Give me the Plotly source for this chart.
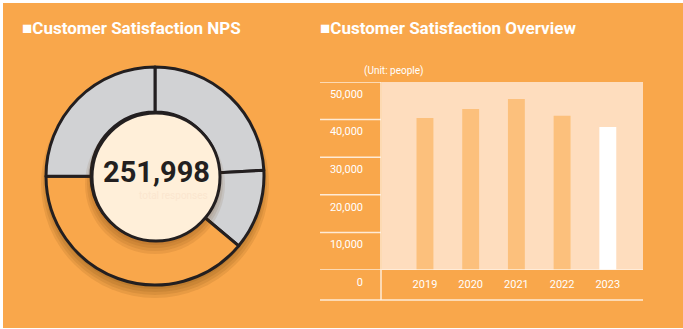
import plotly.graph_objects as go

W, H = 683, 329

# ---------------- data ----------------
title_left = "■Customer Satisfaction NPS"
title_right = "■Customer Satisfaction Overview"
donut_labels = ["Segment A", "Segment B", "Segment C", "Segment D"]
donut_values = [60900, 30000, 98000, 63098]
donut_colors = ["#D1D2D4", "#D1D2D4", "#F9A74B", "#D1D2D4"]
center_caption = "total responses"

years = ["2019", "2020", "2021", "2022", "2023"]
bar_values = [40400, 42800, 45500, 41000, 38000]
bar_colors = ["#FCC07C", "#FCC07C", "#FCC07C", "#FCC07C", "#FFFFFF"]
y_ticks = [0, 10000, 20000, 30000, 40000, 50000]
y_ticktext = ["0", "10,000", "20,000", "30,000", "40,000", "50,000"]
unit_label = "(Unit: people)"

ORANGE = "#F9A74B"
DARK = "#231F20"
LINE = "rgba(255,243,230,0.9)"


def dom(cx, cy, r):
    return dict(x=[(cx - r) / W, (cx + r) / W], y=[(H - cy - r) / H, (H - cy + r) / H])


fig = go.Figure()

cx, cy, R, r_in = 155, 176, 109, 64

# outer shadow
for rr, off in [(114, 8), (112, 7), (110, 6), (108, 5)]:
    fig.add_trace(go.Pie(values=[1], domain=dom(cx, cy + off, rr), textinfo="none",
                         marker=dict(colors=["rgba(90,45,0,0.10)"], line=dict(width=0)),
                         hoverinfo="skip", sort=False, showlegend=False))

# ring
fig.add_trace(go.Pie(labels=donut_labels, values=donut_values, domain=dom(cx, cy, R),
                     hole=r_in / R, sort=False, direction="clockwise", rotation=0,
                     textinfo="none", showlegend=False,
                     marker=dict(colors=donut_colors, line=dict(color=DARK, width=3))))

# inner shadow
for rr, off in [(70, 8), (68, 7), (66, 6), (64, 5)]:
    fig.add_trace(go.Pie(values=[1], domain=dom(cx, cy + off, rr), textinfo="none",
                         marker=dict(colors=["rgba(90,45,0,0.09)"], line=dict(width=0)),
                         hoverinfo="skip", sort=False, showlegend=False))

# inner disc
fig.add_trace(go.Pie(values=[1], domain=dom(cx + 1, cy + 1, r_in), textinfo="none",
                     marker=dict(colors=["#FFEFD9"], line=dict(color=DARK, width=3)),
                     hoverinfo="skip", sort=False, showlegend=False))

# bars
fig.add_trace(go.Bar(x=years, y=bar_values, marker=dict(color=bar_colors, line=dict(width=0)),
                     width=0.37, showlegend=False))

x0p, x1p = 382 / W, 643 / W
fig.update_layout(
    width=W, height=H, margin=dict(l=0, r=0, t=0, b=0, autoexpand=False),
    paper_bgcolor="#FFFFFF", plot_bgcolor="rgba(0,0,0,0)",
    font=dict(family="Roboto", color="#FFFFFF"),
    xaxis=dict(domain=[x0p, x1p], range=[-0.94, 4.77], showgrid=False, zeroline=False,
               showline=False, ticks="", tickfont=dict(size=11, color="#FFFFFF"),
               ticklabelstandoff=6, fixedrange=True, automargin=False),
    yaxis=dict(domain=[(H - 270) / H, (H - 82) / H], range=[0, 50000], tickvals=y_ticks,
               ticktext=y_ticktext, showgrid=False, zeroline=False, showline=False,
               ticks="", tickfont=dict(size=11, color="#FFFFFF"), ticklabelstandoff=18,
               ticklabelshift=12, fixedrange=True, automargin=False),
)

shapes = [
    dict(type="rect", xref="paper", yref="paper", x0=3 / W, x1=1, y0=1 / H, y1=(H - 3) / H,
         fillcolor=ORANGE, line=dict(width=0), layer="below"),
    dict(type="rect", xref="x domain", yref="y domain", x0=0, x1=1, y0=0, y1=1,
         fillcolor="#FEDDBE", line=dict(width=0), layer="below"),
]
for v in y_ticks:
    shapes.append(dict(type="line", xref="paper", yref="y", x0=320 / W,
                       x1=(643 / W if v == 0 else 381 / W), y0=v, y1=v,
                       line=dict(color=LINE, width=1.5)))
shapes.append(dict(type="line", xref="paper", yref="paper", x0=320 / W, x1=643 / W,
                   y0=(H - 300) / H, y1=(H - 300) / H, line=dict(color=LINE, width=1.5)))
shapes.append(dict(type="line", xref="paper", yref="paper", x0=381 / W, x1=381 / W,
                   y0=(H - 300) / H, y1=(H - 82) / H, line=dict(color=LINE, width=1.5)))
fig.update_layout(shapes=shapes)

ann = [
    dict(text=f"<b>{title_left}</b>", x=20 / W, y=(H - 28) / H, xref="paper", yref="paper",
         xanchor="left", yanchor="middle", showarrow=False, font=dict(size=17, color="#FFFFFF")),
    dict(text=f"<b>{title_right}</b>", x=318 / W, y=(H - 28) / H, xref="paper", yref="paper",
         xanchor="left", yanchor="middle", showarrow=False, font=dict(size=17, color="#FFFFFF")),
    dict(text=f"<b>{sum(donut_values):,}</b>", x=(cx + 1) / W, y=(H - 172) / H, xref="paper",
         yref="paper", xanchor="center", yanchor="middle", showarrow=False,
         font=dict(size=29, color=DARK)),
    dict(text=center_caption, x=(cx + 18) / W, y=(H - 195) / H, xref="paper", yref="paper",
         xanchor="center", yanchor="middle", showarrow=False,
         font=dict(size=10, color="#FBE6CF")),
    dict(text=unit_label, x=362 / W, y=(H - 71) / H, xref="paper", yref="paper",
         xanchor="left", yanchor="middle", showarrow=False, font=dict(size=10, color="#FFFFFF")),
]
fig.update_layout(annotations=ann)

fig.write_html("out.html")
